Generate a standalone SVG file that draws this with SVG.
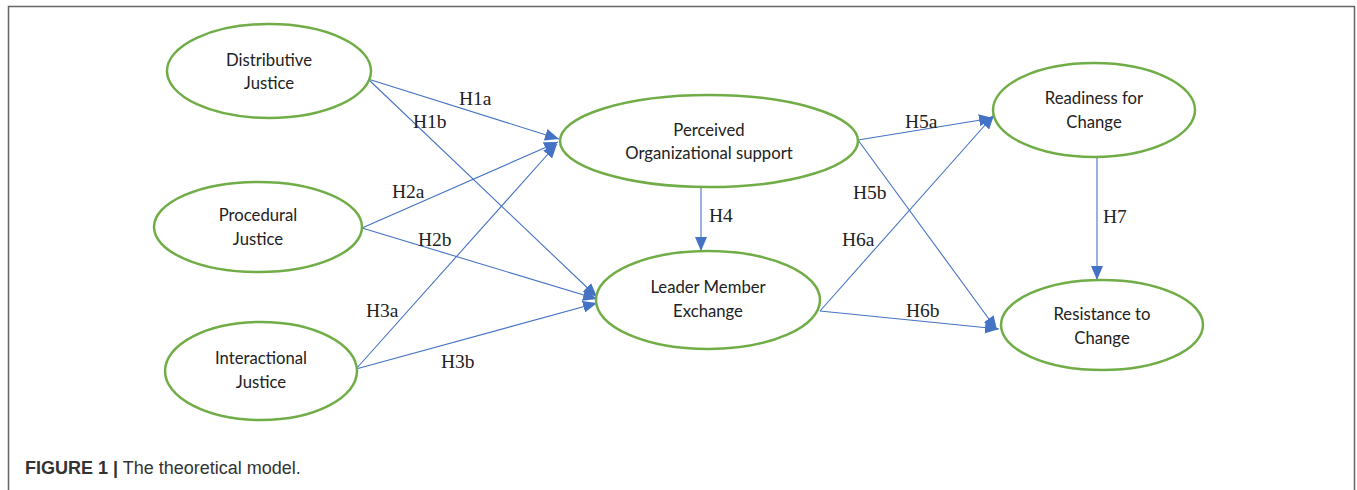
<svg xmlns="http://www.w3.org/2000/svg" width="1357" height="490" viewBox="0 0 1357 490">
<style>
.node{fill:#fff;stroke:#70AD47;stroke-width:2.5}
.nt{font-family:Lato,"Open Sans",sans-serif;font-size:16.7px;fill:#222;text-anchor:middle}
.lbl{font-family:"Liberation Serif","Times New Roman",serif;font-size:19.5px;fill:#222}
.edge{stroke:#4472C4;stroke-width:1.1;fill:none;marker-end:url(#ah)}
.cap{font-family:"Liberation Sans",Arial,sans-serif;font-size:18px;fill:#333}
</style>
<defs>
<marker id="ah" viewBox="0 0 14 12" refX="14" refY="6" markerWidth="14" markerHeight="12" markerUnits="userSpaceOnUse" orient="auto">
<path d="M0,0 L14,6 L0,12 z" fill="#4472C4"/>
</marker>
</defs>
<rect width="1357" height="490" fill="#fff"/>
<path d="M8.5,490 V6.5 H1354.5 V490" fill="none" stroke="#666" stroke-width="1.5"/>
<g id="connectors">
<line class="edge" x1="368" y1="79" x2="559" y2="139"/>
<line class="edge" x1="368" y1="79" x2="597" y2="297"/>
<line class="edge" x1="362" y1="228" x2="558" y2="142"/>
<line class="edge" x1="362" y1="228" x2="597" y2="299"/>
<line class="edge" x1="356" y1="369" x2="557" y2="144"/>
<line class="edge" x1="356" y1="369" x2="597" y2="303"/>
<line class="edge" x1="701" y1="187" x2="701" y2="251"/>
<line class="edge" x1="858" y1="140" x2="993" y2="118"/>
<line class="edge" x1="858" y1="140" x2="997" y2="330"/>
<line class="edge" x1="820" y1="311" x2="994" y2="115"/>
<line class="edge" x1="820" y1="311" x2="999" y2="329"/>
<line class="edge" x1="1097" y1="156" x2="1097" y2="280"/>
<text class="lbl" x="459" y="105">H1a</text>
<text class="lbl" x="413" y="128">H1b</text>
<text class="lbl" x="392" y="198">H2a</text>
<text class="lbl" x="418" y="246">H2b</text>
<text class="lbl" x="366" y="317">H3a</text>
<text class="lbl" x="441" y="368">H3b</text>
<text class="lbl" x="709" y="222">H4</text>
<text class="lbl" x="905" y="128">H5a</text>
<text class="lbl" x="853" y="199">H5b</text>
<text class="lbl" x="842" y="246">H6a</text>
<text class="lbl" x="906" y="317">H6b</text>
<text class="lbl" x="1103" y="223">H7</text>
</g>
<g id="distributive">
<ellipse class="node" cx="269" cy="71" rx="102" ry="47"/>
<text class="nt" x="269" y="66">Distributive</text>
<text class="nt" x="269" y="89">Justice</text>
</g>
<g id="procedural">
<ellipse class="node" cx="258" cy="227" rx="104" ry="45"/>
<text class="nt" x="258" y="221">Procedural</text>
<text class="nt" x="258" y="245">Justice</text>
</g>
<g id="interactional">
<ellipse class="node" cx="261" cy="371" rx="96" ry="49"/>
<text class="nt" x="261" y="364">Interactional</text>
<text class="nt" x="261" y="388">Justice</text>
</g>
<g id="pos">
<ellipse class="node" cx="709" cy="141" rx="149" ry="46"/>
<text class="nt" x="709" y="136">Perceived</text>
<text class="nt" x="709" y="159">Organizational support</text>
</g>
<g id="lmx">
<ellipse class="node" cx="708" cy="300" rx="112" ry="49"/>
<text class="nt" x="708" y="293">Leader Member</text>
<text class="nt" x="708" y="317">Exchange</text>
</g>
<g id="readiness">
<ellipse class="node" cx="1094" cy="110" rx="101" ry="47"/>
<text class="nt" x="1094" y="104">Readiness for</text>
<text class="nt" x="1094" y="128">Change</text>
</g>
<g id="resistance">
<ellipse class="node" cx="1102" cy="325" rx="101" ry="45"/>
<text class="nt" x="1102" y="320">Resistance to</text>
<text class="nt" x="1102" y="344">Change</text>
</g>
<text class="cap" x="25" y="474"><tspan font-weight="bold">FIGURE 1 |</tspan> The theoretical model.</text>
</svg>
